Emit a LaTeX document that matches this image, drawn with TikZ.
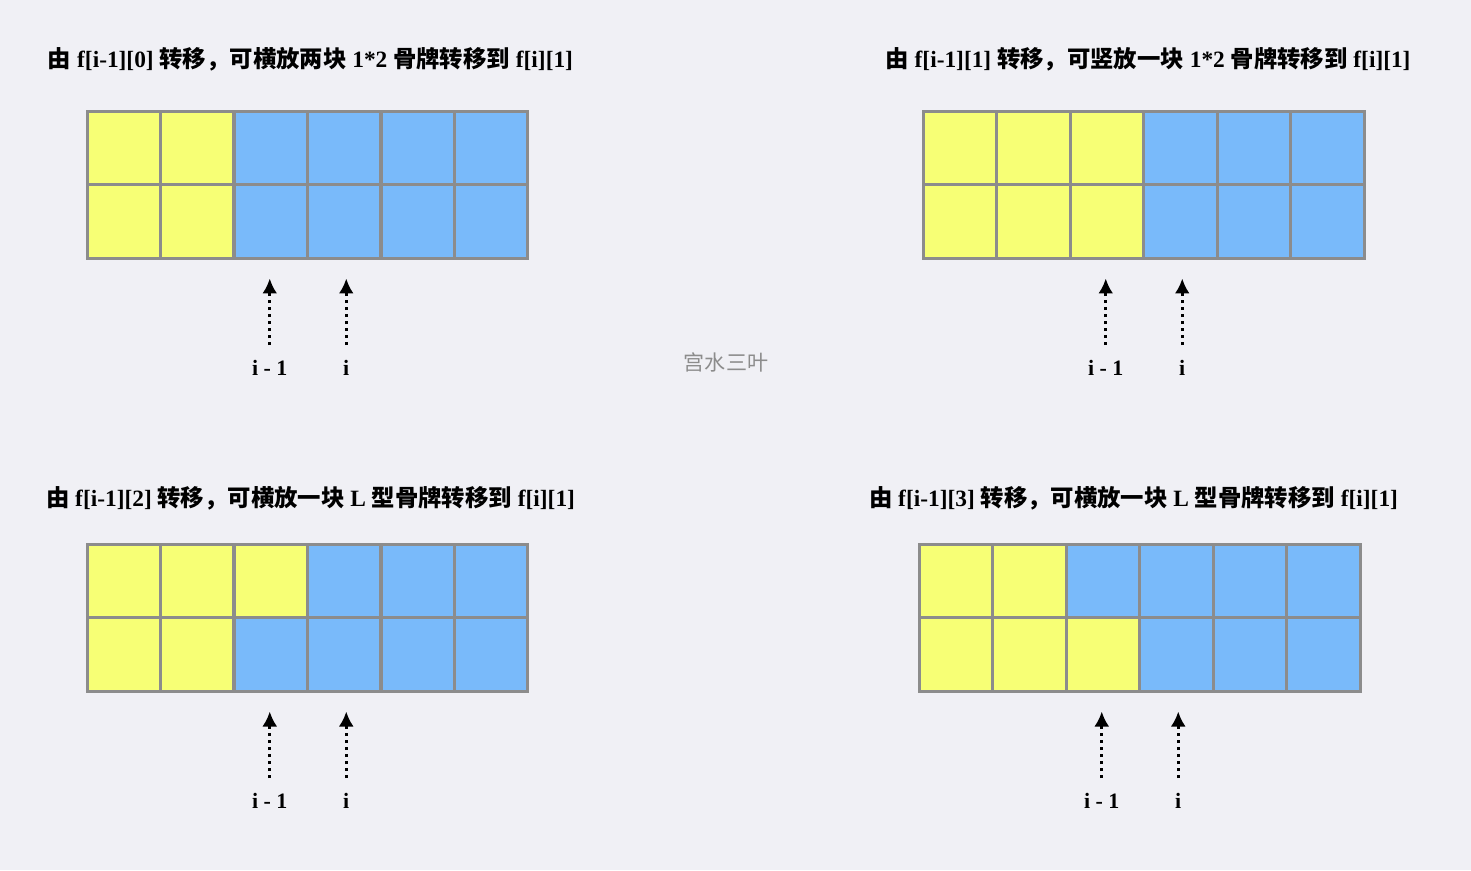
\documentclass[tikz,border=0pt]{standalone}
\usepackage{fontspec}
\setmainfont{Liberation Serif}
\newfontfamily\cjk{Noto Sans CJK SC}
\usetikzlibrary{arrows.meta}
\definecolor{bgpaper}{HTML}{F0F0F5}
\definecolor{cellyellow}{HTML}{F7FF75}
\definecolor{cellblue}{HTML}{79BAFA}
\definecolor{gridgray}{HTML}{8C8C8C}
\newcommand{\zh}[1]{{\cjk #1}}
\begin{document}
\begin{tikzpicture}[
    x=0.02cm, y=-0.02cm,
    cell/.style={draw=gridgray, line width=0.06cm, minimum size=1.47cm, inner sep=0pt},
    title/.style={font=\fontsize{13.3pt}{16pt}\selectfont\bfseries, inner sep=0pt},
    idx/.style={font=\fontsize{12.5pt}{15pt}\selectfont\bfseries, inner sep=0pt},
    ptr/.style={-{Latex[length=0.3cm, width=0.3cm]}, line width=0.06cm, dash pattern=on 0.07cm off 0.07cm, shorten <=0.3cm, shorten >=0.38cm},
    mark text/.style={font=\fontsize{12pt}{14pt}\selectfont\cjk, text=gridgray, inner sep=0pt} % watermark
    ]
    \fill[bgpaper] (0,0) rectangle (1471,870);
    % four boards: name / left / top / yellow cells in row 1 / in row 2
    \foreach \p/\bx/\by/\nt/\nb in {a/87/111/2/2, b/923/111/3/3, c/87/544/3/2, d/919/544/2/3}{
      \foreach \k in {1,...,6}{
        \ifnum\k>\nt \def\cc{cellblue}\else\def\cc{cellyellow}\fi
        \node[cell, fill=\cc] (\p-1-\k) at ({\bx+(\k-0.5)*73.5}, {\by+36.75}) {};
        \ifnum\k>\nb \def\cc{cellblue}\else\def\cc{cellyellow}\fi
        \node[cell, fill=\cc] (\p-2-\k) at ({\bx+(\k-0.5)*73.5}, {\by+110.25}) {};
      }
      \node[idx] (\p-prev) at ({\bx+2.5*73.5-1}, {\by+257}) {i - 1};
      \node[idx] (\p-cur) at ({\bx+3.5*73.5+2}, {\by+257}) {i};
      \draw[ptr] (\p-prev.north) -- (\p-prev.north |- \p-2-3.south);
      \draw[ptr] (\p-cur.north) -- (\p-cur.north |- \p-2-4.south);
    }
    \node[title] (title-a) at (310.5,59) {\zh{由} f[i-1][0] \zh{转移，可横放两块} 1*2 \zh{骨牌转移到} f[i][1]};
    \node[title] (title-b) at (1148,59) {\zh{由} f[i-1][1] \zh{转移，可竖放一块} 1*2 \zh{骨牌转移到} f[i][1]};
    \node[title] (title-c) at (310.5,498) {\zh{由} f[i-1][2] \zh{转移，可横放一块} L \zh{型骨牌转移到} f[i][1]};
    \node[title] (title-d) at (1133.5,498) {\zh{由} f[i-1][3] \zh{转移，可横放一块} L \zh{型骨牌转移到} f[i][1]};
    \node[mark text] (mark) at (726,362) {宫水三叶};
\end{tikzpicture}
\end{document}
